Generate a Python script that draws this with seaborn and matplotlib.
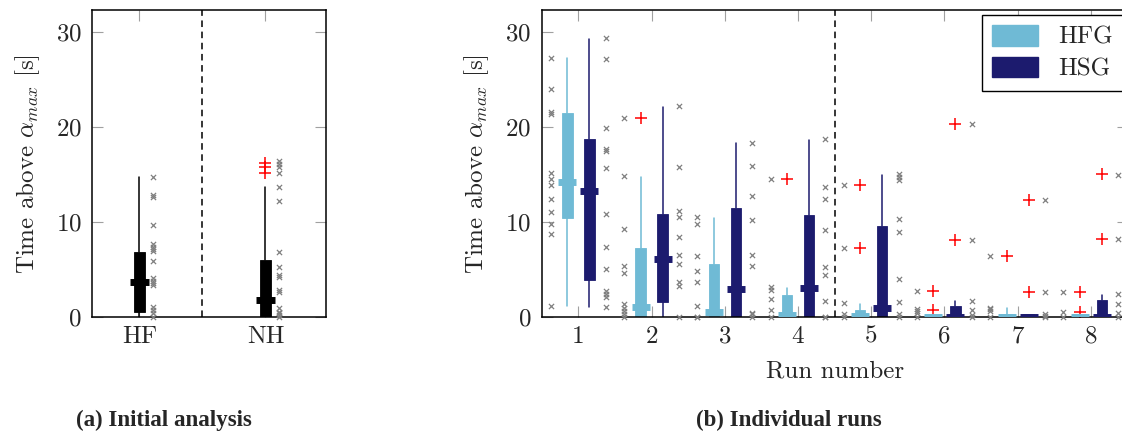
import matplotlib
matplotlib.use("Agg")
import matplotlib.pyplot as plt
from matplotlib.patches import Patch
import seaborn as sns
import numpy as np
import pandas as pd

# ---- data ----
# (a) initial analysis
init_groups = ["HF", "NH"]
init_q1 = [0.52, 0.0]
init_med = [3.74, 1.82]
init_q3 = [6.89, 6.02]
init_whislo = [0.0, 0.0]
init_whishi = [14.7, 13.65]
init_fliers = [[], [16.24, 15.76, 15.13]]
init_points = {
    "HF": [14.7, 12.85, 12.67, 9.73, 7.7, 7.42, 7.17, 6.96, 5.91, 4.1, 3.84,
           3.63, 3.39, 1.11, 0.77, 0.42, 0.06],
    "NH": [16.4, 16.07, 15.76, 15.13, 13.65, 12.25, 6.83, 5.25, 4.44, 4.2,
           2.87, 2.66, 0.95, 0.59, 0.42, 0.24, 0.06],
}

# (b) individual runs
runs = [1, 2, 3, 4, 5, 6, 7, 8]
hfg_q1 = [10.46, 0, 0, 0, 0, 0, 0, 0]
hfg_med = [14.2, 1.08, 0.6, 0.2, 0.1, 0.05, 0.05, 0.05]
hfg_q3 = [21.5, 7.24, 5.6, 2.34, 0.77, 0.24, 0.3, 0.24]
hfg_whislo = [1.19, 0, 0, 0, 0, 0, 0, 0]
hfg_whishi = [27.3, 14.77, 10.46, 3.05, 1.4, 0.24, 0.94, 0.24]
hfg_fliers = [[], [20.9], [], [14.5], [13.9, 7.24], [2.76, 0.77], [6.44], [2.62, 0.59]]
hfg_points = [
    [27.3, 24.0, 21.6, 21.4, 15.2, 14.5, 13.9, 12.4, 11.1, 9.77, 8.72, 1.19],
    [20.9, 14.8, 9.24, 5.39, 4.69, 1.36, 1.0, 0.66, 0.3, 0.0],
    [10.57, 9.8, 6.44, 4.9, 3.68, 1.22, 0.06, 0.0],
    [14.5, 3.15, 2.87, 1.89, 0.77, 0.0],
    [13.9, 7.24, 1.47, 0.3, 0.06],
    [2.76, 0.84, 0.7, 0.4, 0.0],
    [6.44, 1.0, 0.84, 0.7, 0.0],
    [2.62, 0.59, 0.0],
]

hsg_q1 = [3.92, 1.64, 0, 0, 0, 0, 0, 0]
hsg_med = [13.27, 6.12, 2.94, 3.08, 0.94, 0.05, 0.03, 0.05]
hsg_q3 = [18.76, 10.85, 11.45, 10.75, 9.62, 1.19, 0.3, 1.82]
hsg_whislo = [1.12, 0, 0, 0, 0, 0, 0, 0]
hsg_whishi = [29.3, 22.1, 18.34, 18.62, 14.95, 1.68, 0.3, 2.34]
hsg_fliers = [[], [], [], [], [], [20.27, 8.12], [12.32, 2.62], [15.02, 8.19]]
hsg_points = [
    [29.4, 27.1, 19.9, 17.7, 17.5, 15.7, 10.85, 7.35, 5.04, 2.76, 2.48, 2.16, 1.12],
    [22.2, 15.75, 11.2, 10.57, 8.4, 6.6, 5.57, 3.74, 3.29, 0.0],
    [18.34, 15.9, 12.8, 10.2, 6.6, 5.39, 0.5, 0.3, 0.06],
    [18.7, 13.65, 12.4, 9.17, 5.3, 4.4, 1.7, 0.06, 0.0],
    [15.05, 14.77, 14.42, 10.36, 8.93, 3.99, 1.64, 0.3, 0.0],
    [20.27, 8.12, 1.71, 0.77, 0.2, 0.0],
    [12.32, 2.62, 0.3, 0.1, 0.0],
    [15.0, 8.19, 2.41, 1.4, 0.42, 0.0],
]

HFG_COLOR = "#6fbad5"
HSG_COLOR = "#1c1b6e"

sns.set_style("ticks")
plt.rcParams["font.family"] = ["cmr10", "DejaVu Serif"]
plt.rcParams["mathtext.fontset"] = "cm"
plt.rcParams["axes.formatter.use_mathtext"] = True
plt.rcParams["axes.unicode_minus"] = False

FS = 18
W, H = 1122, 434
fig = plt.figure(figsize=(W / 100, H / 100), dpi=100)


def px_axes(x0, x1, y_top, y_bot):
    return fig.add_axes([x0 / W, 1 - y_bot / H, (x1 - x0) / W, (y_bot - y_top) / H])


def draw_boxes(ax, pos, q1, med, q3, lo, hi, fliers, color, wcolor, width, med_hw):
    stats = [dict(q1=a, med=m, q3=b, whislo=l, whishi=h, fliers=f)
             for a, m, b, l, h, f in zip(q1, med, q3, lo, hi, fliers)]
    ax.bxp(stats, positions=pos, widths=width, patch_artist=True,
           showcaps=False, manage_ticks=False,
           boxprops=dict(facecolor=color, edgecolor=color, linewidth=0.6),
           whiskerprops=dict(color=wcolor, linewidth=1.1),
           medianprops=dict(visible=False),
           flierprops=dict(marker="+", markeredgecolor="red", markersize=8.5,
                           markeredgewidth=1.1, linestyle="none"))
    ax.hlines(med, np.asarray(pos) - med_hw, np.asarray(pos) + med_hw,
              color=color, linewidth=5, capstyle="butt", zorder=3)


def style_axes(ax):
    ax.set_ylim(0, 32.3)
    ax.set_yticks([0, 10, 20, 30])
    ax.tick_params(axis="both", direction="in", length=8, width=0.8,
                   color="#a0a0a0", top=True, right=True, labelsize=FS)
    ax.tick_params(axis="x", pad=6)
    ax.tick_params(axis="y", pad=7.5)
    for sp in ax.spines.values():
        sp.set_visible(True)
        sp.set_color("black")
        sp.set_linewidth(1.1)
    ax.set_ylabel(r"Time above $\alpha_{max}$ [s]", fontsize=FS, labelpad=10)


# ---- (a) ----
ax1 = px_axes(92.3, 326, 10, 317.3)
pos1 = np.arange(1, len(init_groups) + 1)
draw_boxes(ax1, pos1, init_q1, init_med, init_q3, init_whislo, init_whishi,
           init_fliers, "black", "black", 0.082, 0.074)
pts1 = pd.DataFrame([(i + 1, v) for i, g in enumerate(init_groups) for v in init_points[g]],
                    columns=["pos", "value"])
sns.scatterplot(x=pts1["pos"] + 0.111, y=pts1["value"], ax=ax1, marker="x",
                color="#808080", s=14, linewidth=0.9, clip_on=False, zorder=4)
ax1.axvline(1.5, color="black", linestyle=(0, (4.3, 3)), linewidth=1.1)
ax1.set_xlim(0.627, 2.48)
ax1.set_xticks(pos1)
ax1.set_xticklabels(init_groups)
ax1.set_xlabel("")
style_axes(ax1)

# ---- (b) ----
ax2 = px_axes(541.7, 1127.5, 10, 317.3)
r = np.array(runs, dtype=float)
draw_boxes(ax2, r - 0.15, hfg_q1, hfg_med, hfg_q3, hfg_whislo, hfg_whishi,
           hfg_fliers, HFG_COLOR, HFG_COLOR, 0.143, 0.123)
draw_boxes(ax2, r + 0.15, hsg_q1, hsg_med, hsg_q3, hsg_whislo, hsg_whishi,
           hsg_fliers, HSG_COLOR, HSG_COLOR, 0.143, 0.123)
rows = []
for run, hv, sv in zip(runs, hfg_points, hsg_points):
    rows += [(run - 0.375, v) for v in hv]
    rows += [(run + 0.375, v) for v in sv]
pts2 = pd.DataFrame(rows, columns=["x", "value"])
sns.scatterplot(data=pts2, x="x", y="value", ax=ax2, marker="x",
                color="#808080", s=14, linewidth=0.9, clip_on=False, zorder=4)
ax2.axvline(4.5, color="black", linestyle=(0, (4.3, 3)), linewidth=1.1)
ax2.set_xlim(0.5, 8.5)
ax2.set_xticks(runs)
ax2.set_xticklabels([str(v) for v in runs])
style_axes(ax2)
ax2.set_xlabel("Run number", fontsize=FS, labelpad=9)

handles = [Patch(facecolor=HFG_COLOR, edgecolor=HFG_COLOR),
           Patch(facecolor=HSG_COLOR, edgecolor=HSG_COLOR)]
leg = ax2.legend(handles, ["HFG", "HSG"], loc="upper right", fontsize=FS,
                 frameon=True, fancybox=False, framealpha=1, edgecolor="black",
                 borderaxespad=0.2, borderpad=0.4, handlelength=1.85,
                 handleheight=0.9, handletextpad=0.8, labelspacing=0.3)
leg.get_frame().set_linewidth(1.0)

fig.text(164 / W, 1 - 420 / H, "(a) Initial analysis", ha="center", va="center",
         family="Liberation Serif", weight="bold", fontsize=16.5)
fig.text(789 / W, 1 - 420 / H, "(b) Individual runs", ha="center", va="center",
         family="Liberation Serif", weight="bold", fontsize=16.5)

fig.savefig("out.png", dpi=100)
